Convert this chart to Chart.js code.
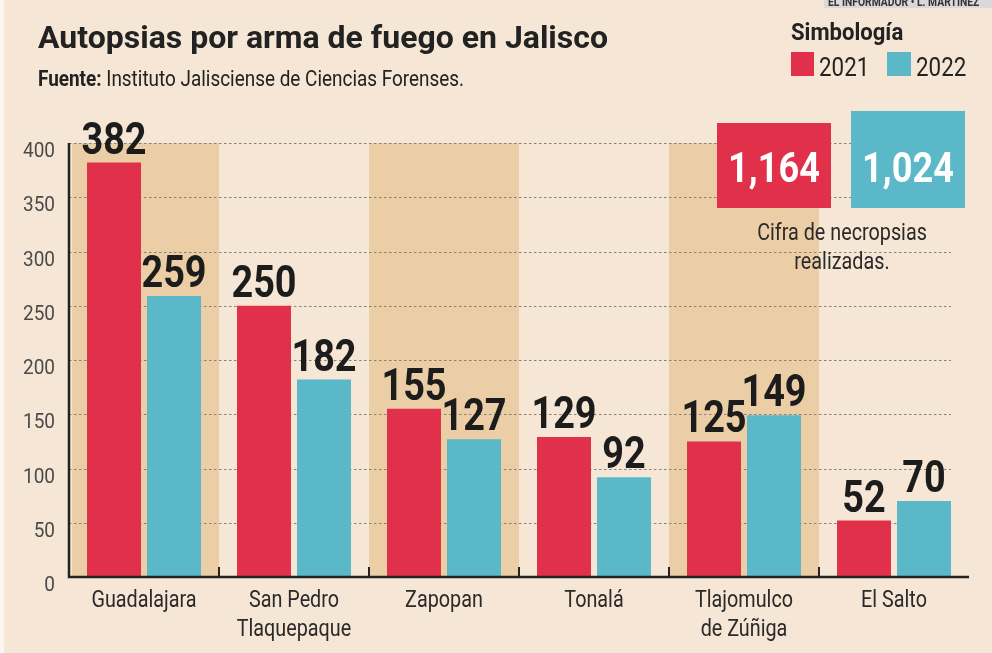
<!DOCTYPE html>
<html>
<head>
<meta charset="utf-8">
<script src="https://cdn.jsdelivr.net/npm/chart.js@4"></script>
<style>
  body { margin: 0; background: #f5e6d5; }
  canvas { display: block; }
</style>
</head>
<body>
<canvas id="grafica" width="992" height="653"></canvas>
<script>
// Datos de la gráfica
const municipios = [['Guadalajara'], ['San Pedro', 'Tlaquepaque'], ['Zapopan'], ['Tonalá'], ['Tlajomulco', 'de Zúñiga'], ['El Salto']];
const valores2021 = [382, 250, 155, 129, 125, 52];
const valores2022 = [259, 182, 127, 92, 149, 70];
const ticksY = [0, 50, 100, 150, 200, 250, 300, 350, 400];
const totales = ['1,164', '1,024'];

const ROJO = '#e0304a';
const AZUL = '#5bb8c9';
const FRANJA = '#ebcea6';
const TINTA = '#222222';

// Texto "condensado": Roboto escalado en horizontal
function texto(ctx, t, x, y, font, align, sx, color) {
    ctx.save();
    ctx.font = font;
    ctx.fillStyle = color || TINTA;
    ctx.textAlign = align || 'left';
    ctx.textBaseline = 'alphabetic';
    ctx.translate(x, y);
    ctx.scale(sx || 1, 1);
    ctx.fillText(t, 0, 0);
    ctx.restore();
}

// Fondo, franjas y rejilla (antes de las barras)
const fondoPlugin = {
    id: 'fondo',
    beforeDraw(chart) {
        const ctx = chart.ctx;
        const x = chart.scales.x, y = chart.scales.y;
        const area = chart.chartArea;
        ctx.save();
        ctx.fillStyle = '#f5e6d5';
        ctx.fillRect(0, 0, chart.width, chart.height);
        ctx.fillStyle = '#fbf6f0';
        ctx.fillRect(0, 0, 4, chart.height);

        // franjas alternas
        const paso = x.getPixelForValue(1) - x.getPixelForValue(0);
        ctx.fillStyle = FRANJA;
        municipios.forEach((m, i) => {
            if (i % 2 === 0) {
                const cx = x.getPixelForValue(i);
                const l = Math.max(cx - paso / 2, area.left + 3);
                ctx.fillRect(l, y.getPixelForValue(400), cx + paso / 2 - l, y.getPixelForValue(0) - y.getPixelForValue(400));
            }
        });

        // rejilla punteada
        ctx.strokeStyle = '#8a8078';
        ctx.lineWidth = 1.2;
        ctx.setLineDash([2.5, 2.5]);
        ticksY.forEach(v => {
            if (v === 0) return;
            const py = Math.round(y.getPixelForValue(v)) + 0.5;
            ctx.beginPath();
            ctx.moveTo(area.left, py);
            ctx.lineTo(area.right - 18, py);
            ctx.stroke();
        });
        ctx.setLineDash([]);

        // etiquetas eje Y
        ticksY.forEach(v => {
            texto(ctx, String(v), 55, y.getPixelForValue(v) + 14, '20px Roboto', 'right', 0.95, '#4a4a4a');
        });
        ctx.restore();
    },
    afterDatasetsDraw(chart) {
        const ctx = chart.ctx;
        const x = chart.scales.x, y = chart.scales.y;
        const area = chart.chartArea;
        ctx.save();

        // ejes
        ctx.strokeStyle = TINTA;
        ctx.lineWidth = 2.5;
        ctx.beginPath();
        ctx.moveTo(area.left, y.getPixelForValue(400));
        ctx.lineTo(area.left, area.bottom);
        ctx.lineTo(area.right, area.bottom);
        ctx.stroke();
        const paso = x.getPixelForValue(1) - x.getPixelForValue(0);
        ctx.lineWidth = 2;
        for (let i = 0; i < municipios.length - 1; i++) {
            const px = x.getPixelForValue(i) + paso / 2;
            ctx.beginPath();
            ctx.moveTo(px, area.bottom);
            ctx.lineTo(px, area.bottom - 10);
            ctx.stroke();
        }

        // valores sobre las barras
        chart.data.datasets.forEach((ds, di) => {
            const meta = chart.getDatasetMeta(di);
            meta.data.forEach((bar, i) => {
                texto(ctx, String(ds.data[i]), bar.x, bar.y - 9, 'bold 44px Roboto', 'center', 0.86, '#1c1c1c');
            });
        });

        // etiquetas de categorías
        municipios.forEach((lineas, i) => {
            lineas.forEach((l, j) => {
                texto(ctx, l, x.getPixelForValue(i), 607 + j * 29, '23px Roboto', 'center', 0.86, '#2a2a2a');
            });
        });

        // título y fuente
        texto(ctx, 'Autopsias por arma de fuego en Jalisco', 38, 48, 'bold 32px Roboto', 'left', 1, '#222');
        ctx.font = 'bold 22px Roboto';
        const wF = ctx.measureText('Fuente: ').width * 0.86;
        texto(ctx, 'Fuente:', 38, 86, 'bold 22px Roboto', 'left', 0.86, '#222');
        texto(ctx, 'Instituto Jalisciense de Ciencias Forenses.', 38 + wF, 86, '22px Roboto', 'left', 0.86, '#222');

        // crédito
        ctx.fillStyle = '#d9d9d9';
        ctx.fillRect(824, 0, 168, 8);
        texto(ctx, 'EL INFORMADOR • L. MARTÍNEZ', 828, 6, 'bold 12px Roboto', 'left', 0.86, '#333');

        // simbología
        texto(ctx, 'Simbología', 791, 40, 'bold 24px Roboto', 'left', 0.92, '#222');
        ctx.fillStyle = ROJO;
        ctx.fillRect(791, 52, 23, 24);
        texto(ctx, '2021', 819, 76, '26px Roboto', 'left', 0.86, '#222');
        ctx.fillStyle = AZUL;
        ctx.fillRect(887, 52, 24, 24);
        texto(ctx, '2022', 916, 76, '26px Roboto', 'left', 0.86, '#222');

        // totales
        ctx.fillStyle = ROJO;
        ctx.fillRect(717, 123, 114, 85);
        ctx.fillStyle = AZUL;
        ctx.fillRect(851, 111, 114, 97);
        texto(ctx, totales[0], 774, 182, 'bold 42px Roboto', 'center', 0.86, '#ffffff');
        texto(ctx, totales[1], 908, 182, 'bold 42px Roboto', 'center', 0.86, '#ffffff');
        texto(ctx, 'Cifra de necropsias', 842, 240, '23px Roboto', 'center', 0.86, '#2a2a2a');
        texto(ctx, 'realizadas.', 842, 269, '23px Roboto', 'center', 0.86, '#2a2a2a');
        ctx.restore();
    }
};

new Chart(document.getElementById('grafica'), {
    type: 'bar',
    data: {
        labels: municipios,
        datasets: [
            { label: '2021', data: valores2021, backgroundColor: ROJO },
            { label: '2022', data: valores2022, backgroundColor: AZUL }
        ]
    },
    options: {
        responsive: false,
        animation: false,
        layout: { padding: { left: 69, right: 23, top: 143, bottom: 76 } },
        categoryPercentage: 0.8,
        barPercentage: 0.9,
        plugins: { legend: { display: false }, tooltip: { enabled: false } },
        scales: {
            x: { display: false },
            y: { display: false, min: 0, max: 400 }
        }
    },
    plugins: [fondoPlugin]
});
</script>
</body>
</html>
